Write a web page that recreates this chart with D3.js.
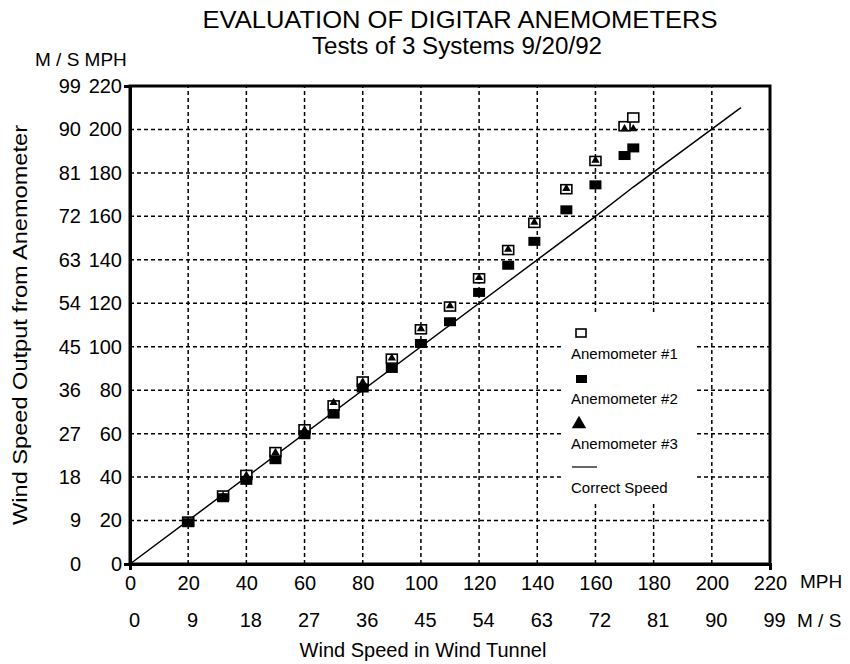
<!DOCTYPE html>
<html><head><meta charset="utf-8">
<script src="https://cdn.jsdelivr.net/npm/d3@7"></script>
<style>
body{margin:0;background:#fff}
text{font-family:"Liberation Sans",Arial,Helvetica,sans-serif;fill:#000}
</style>
</head><body>
<svg id="c" width="850" height="664"></svg>
<script>
// ---- data (MPH) ----
const windTunnelMPH = [20, 32, 40, 50, 60, 70, 80, 90, 100, 110, 120, 130, 139, 150, 160, 170, 173];
const anemometer1   = [19.5, 31.5, 41, 51.5, 62, 73, 84, 94.5, 108, 118.5, 131.5, 144.5, 157, 172.5, 185.5, 201.5, 205.5];
const anemometer2   = [19, 30.5, 38.5, 48, 59.5, 69, 81, 90, 101.5, 111.5, 125, 137.5, 148.5, 163, 174.5, 188, 191.5];
const anemometer3   = [19.5, 31.5, 41, 51.5, 62, 74.5, 84, 95, 108.5, 119, 132, 145, 157.5, 173, 186, 200.5, 200.5];
const correctSpeedX = [0, 160, 173, 210];
const correctSpeedY = [0, 160, 173.5, 210];
const mphTicks = [0, 20, 40, 60, 80, 100, 120, 140, 160, 180, 200, 220];
const msTickLabels = ["0", "9", "18", "27", "36", "45", "54", "63", "72", "81", "90", "99"];
const gridTicks = [20, 40, 60, 80, 100, 120, 140, 160, 180, 200];
const legendLabels = ["Anemometer #1", "Anemometer #2", "Anemometer #3", "Correct Speed"];

const svg = d3.select("#c");
const L = 130, R = 770, T = 86, B = 564;
const x = d3.scaleLinear().domain([0, 220]).range([L, R]);
const y = d3.scaleLinear().domain([0, 220]).range([B, T]);

// titles
svg.append("text").attr("x", 460).attr("y", 28).attr("text-anchor", "middle")
  .attr("textLength", 515).attr("lengthAdjust", "spacingAndGlyphs")
  .style("font-size", "24px").text("EVALUATION OF DIGITAR ANEMOMETERS");
svg.append("text").attr("x", 457).attr("y", 54).attr("text-anchor", "middle")
  .attr("textLength", 290).attr("lengthAdjust", "spacingAndGlyphs")
  .style("font-size", "23px").text("Tests of 3 Systems 9/20/92");
svg.append("text").attr("x", 35).attr("y", 66).style("font-size", "19px").text("M / S MPH");

// grid
const g = svg.append("g");
g.selectAll("line.v").data(gridTicks).join("line")
  .attr("x1", d => x(d)).attr("x2", d => x(d)).attr("y1", y(0)).attr("y2", y(220))
  .attr("stroke", "#000").attr("stroke-width", 1.5).attr("stroke-dasharray", "4,3");
g.selectAll("line.h").data(gridTicks).join("line")
  .attr("y1", d => y(d)).attr("y2", d => y(d)).attr("x1", x(0)).attr("x2", x(220))
  .attr("stroke", "#000").attr("stroke-width", 1.5).attr("stroke-dasharray", "4,3");

// legend background
const lg = svg.append("g");
lg.append("rect").attr("x", 562).attr("y", 313).attr("width", 135).attr("height", 189).attr("fill", "#fff");

// correct speed line
const lineGen = d3.line().x(d => x(d[0])).y(d => y(d[1]));
svg.append("path").datum(correctSpeedX.map((v, i) => [v, correctSpeedY[i]]))
  .attr("d", lineGen).attr("fill", "none").attr("stroke", "#000").attr("stroke-width", 1.5);

// markers
const pts1 = windTunnelMPH.map((v, i) => [v, anemometer1[i]]);
const pts2 = windTunnelMPH.map((v, i) => [v, anemometer2[i]]);
const pts3 = windTunnelMPH.map((v, i) => [v, anemometer3[i]]);
svg.append("g").selectAll("rect").data(pts1).join("rect")
  .attr("x", d => x(d[0]) - 5.5).attr("y", d => y(d[1]) - 4.5).attr("width", 11).attr("height", 9)
  .attr("fill", "#fff").attr("stroke", "#000").attr("stroke-width", 1.6);
svg.append("g").selectAll("rect").data(pts2).join("rect")
  .attr("x", d => x(d[0]) - 6).attr("y", d => y(d[1]) - 4.5).attr("width", 12).attr("height", 9)
  .attr("fill", "#000");
const tri = d3.symbol().type(d3.symbolTriangle).size(30);
svg.append("g").selectAll("path").data(pts3).join("path")
  .attr("transform", d => `translate(${x(d[0])},${y(d[1]) + 0.5})`).attr("d", tri).attr("fill", "#000");

// frame
svg.append("rect").attr("x", L).attr("y", T).attr("width", R - L).attr("height", B - T)
  .attr("fill", "none").attr("stroke", "#000").attr("stroke-width", 3);

// axes
const xAxis = d3.axisBottom(x).tickValues(mphTicks).tickSize(0).tickSizeOuter(6).tickPadding(12)
  .tickFormat(d => d);
const xa = svg.append("g").attr("transform", `translate(0,${B})`).call(xAxis);
xa.select(".domain").attr("stroke-width", 3);
xa.selectAll("text").style("font-size", "20px").attr("font-family", null);

const xAxisMS = d3.axisBottom(x).tickValues(mphTicks).tickSize(0).tickPadding(0)
  .tickFormat((d, i) => msTickLabels[i]);
const xb = svg.append("g").attr("transform", `translate(4,${B + 49})`).call(xAxisMS);
xb.select(".domain").remove();
xb.selectAll("text").style("font-size", "20px").attr("font-family", null);

const yAxis = d3.axisLeft(y).tickValues(mphTicks).tickSize(0).tickSizeOuter(6).tickPadding(8)
  .tickFormat(d => d);
const ya = svg.append("g").attr("transform", `translate(${L},0)`).call(yAxis);
ya.select(".domain").attr("stroke-width", 3);
ya.selectAll("text").style("font-size", "20px").attr("font-family", null);

const yAxisMS = d3.axisLeft(y).tickValues(mphTicks).tickSize(0).tickPadding(0)
  .tickFormat((d, i) => msTickLabels[i]);
const yb = svg.append("g").attr("transform", `translate(81,0)`).call(yAxisMS);
yb.select(".domain").remove();
yb.selectAll("text").style("font-size", "20px").attr("font-family", null);

// unit labels
svg.append("text").attr("x", 800).attr("y", 588).style("font-size", "19px").text("MPH");
svg.append("text").attr("x", 797).attr("y", 627).style("font-size", "19px").text("M / S");

// axis titles
svg.append("text").attr("x", 423).attr("y", 657).attr("text-anchor", "middle")
  .style("font-size", "20px").text("Wind Speed in Wind Tunnel");
svg.append("text").attr("transform", "translate(27,325) rotate(-90)").attr("text-anchor", "middle")
  .attr("textLength", 400).attr("lengthAdjust", "spacingAndGlyphs")
  .style("font-size", "21px").text("Wind Speed Output from Anemometer");

// legend
lg.append("rect").attr("x", 576).attr("y", 329).attr("width", 10).attr("height", 8)
  .attr("fill", "#fff").attr("stroke", "#000").attr("stroke-width", 1.6);
lg.append("rect").attr("x", 576).attr("y", 375).attr("width", 11).attr("height", 8).attr("fill", "#000");
lg.append("path").attr("transform", "translate(579,424)")
  .attr("d", d3.symbol().type(d3.symbolTriangle).size(90)).attr("fill", "#000");
lg.append("line").attr("x1", 572).attr("x2", 597).attr("y1", 467).attr("y2", 467)
  .attr("stroke", "#000").attr("stroke-width", 1.2);
const legendY = [359, 404, 449, 493];
lg.selectAll("text.l").data(legendLabels).join("text")
  .attr("x", 571).attr("y", (d, i) => legendY[i]).style("font-size", "15px").text(d => d);
</script>
</body></html>
